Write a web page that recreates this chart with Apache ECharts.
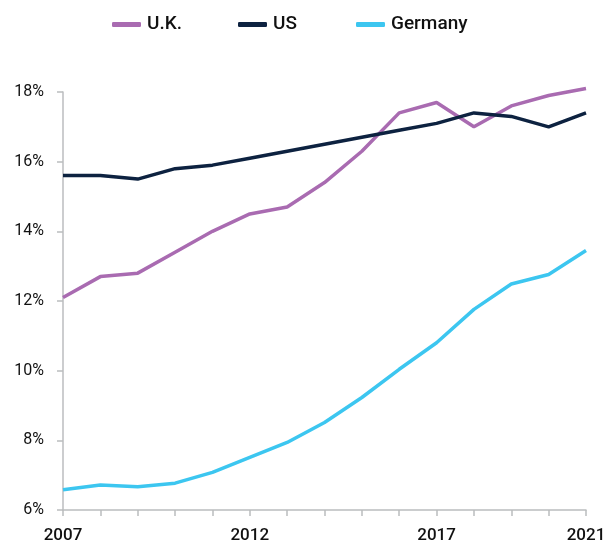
<!DOCTYPE html>
<html>
<head>
<meta charset="utf-8">
<script src="https://cdn.jsdelivr.net/npm/echarts@6/dist/echarts.min.js"></script>
<style>html,body{margin:0;padding:0;background:#fff}#c{width:615px;height:544px}</style>
</head>
<body>
<div id="c"></div>
<script>
var years = ['2007','2008','2009','2010','2011','2012','2013','2014','2015','2016','2017','2018','2019','2020','2021'];
var shownYears = ['2007','2012','2017','2021'];
var uk = [12.1,12.7,12.8,13.4,14.0,14.5,14.7,15.4,16.3,17.4,17.7,17.0,17.6,17.9,18.1];
var us = [15.6,15.6,15.5,15.8,15.9,16.1,16.3,16.5,16.7,16.9,17.1,17.4,17.3,17.0,17.4];
var germany = [6.58,6.72,6.67,6.77,7.08,7.51,7.94,8.51,9.23,10.04,10.8,11.76,12.49,12.76,13.45];
var seriesNames = ['U.K.','US','Germany'];
var colors = ['#A96BB1','#0D2240','#3CC6F0'];

var FONT = 'Roboto,sans-serif';
var chart = echarts.init(document.getElementById('c'), null, {renderer:'canvas'});
function leg(name, left){
  return {data:[name], left:left, top:15, padding:0, icon:'roundRect', itemWidth:29, itemHeight:5, itemGap:0,
    textStyle:{fontFamily:FONT, fontSize:19, fontWeight:500, color:'#111', padding:[0,0,0,1]}, selectedMode:false};
}
chart.setOption({
  animation:false,
  color: colors,
  legend:[leg(seriesNames[0],112), leg(seriesNames[1],238), leg(seriesNames[2],356)],
  grid:{left:63, right:29, top:92, bottom:33, containLabel:false},
  xAxis:{
    type:'category', data:years, boundaryGap:false,
    axisLine:{lineStyle:{color:'#BBBDBF', width:1.5}},
    axisTick:{show:true, interval:0, length:6, lineStyle:{color:'#BBBDBF', width:1.5}},
    axisLabel:{interval:function(i,v){return shownYears.indexOf(v)>=0;}, margin:17,
      fontFamily:FONT, fontSize:17, fontWeight:500, color:'#111'},
    splitLine:{show:false}
  },
  yAxis:{
    type:'value', min:6, max:18, interval:2,
    axisLine:{show:true, lineStyle:{color:'#BBBDBF', width:1.5}},
    axisTick:{show:true, length:6, lineStyle:{color:'#BBBDBF', width:1.5}},
    axisLabel:{formatter:'{value}%', margin:19, fontFamily:FONT, fontSize:16, color:'#111'},
    splitLine:{show:false}
  },
  series:[
    {name:seriesNames[0], type:'line', data:uk, symbol:'none', clip:false, lineStyle:{width:3.5, color:colors[0]}, itemStyle:{color:colors[0]}},
    {name:seriesNames[1], type:'line', data:us, symbol:'none', clip:false, lineStyle:{width:3.5, color:colors[1]}, itemStyle:{color:colors[1]}},
    {name:seriesNames[2], type:'line', data:germany, symbol:'none', clip:false, lineStyle:{width:3.5, color:colors[2]}, itemStyle:{color:colors[2]}}
  ]
});
</script>
</body>
</html>
